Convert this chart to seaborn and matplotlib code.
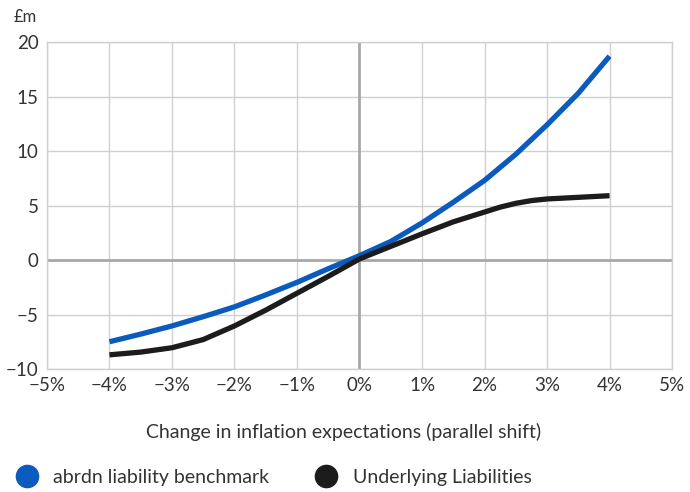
import matplotlib
matplotlib.use("Agg")
import matplotlib.pyplot as plt
from matplotlib.lines import Line2D
import pandas as pd
import seaborn as sns

# Change in inflation expectations (%) and valuation impact (£m)
bench_shift = [-4.0, -3.5, -3.0, -2.5, -2.0, -1.5, -1.0, -0.5, 0.0,
               0.5, 1.0, 1.5, 2.0, 2.5, 3.0, 3.5, 4.0]
benchmark = [-7.5, -6.8, -6.05, -5.2, -4.3, -3.2, -2.05, -0.8, 0.4,
             1.7, 3.4, 5.3, 7.3, 9.7, 12.4, 15.3, 18.7]
under_shift = [-4.0, -3.5, -3.0, -2.5, -2.0, -1.5, -1.0, -0.5, 0.0,
               0.5, 1.0, 1.5, 2.0, 2.25, 2.5, 2.75, 3.0, 3.5, 4.0]
underlying = [-8.7, -8.45, -8.05, -7.3, -6.05, -4.6, -3.05, -1.5, 0.1,
              1.25, 2.4, 3.5, 4.4, 4.85, 5.2, 5.45, 5.6, 5.75, 5.9]
series_names = ["abrdn liability benchmark", "Underlying Liabilities"]
series_colors = ["#0a5bbd", "#1c1c1c"]
x_ticks = [-5, -4, -3, -2, -1, 0, 1, 2, 3, 4, 5]
x_ticklabels = ["\u22125%", "\u22124%", "\u22123%", "\u22122%", "\u22121%", "0%",
                "1%", "2%", "3%", "4%", "5%"]
y_ticks = [-10, -5, 0, 5, 10, 15, 20]
y_ticklabels = ["\u221210", "\u22125", "0", "5", "10", "15", "20"]

df = pd.DataFrame({
    "shift": bench_shift + under_shift,
    "value": benchmark + underlying,
    "series": [series_names[0]] * len(bench_shift) + [series_names[1]] * len(under_shift),
})

sns.set_theme(style="white")
plt.rcParams["font.family"] = ["Lato", "DejaVu Sans"]
text_color = "#333333"

fig = plt.figure(figsize=(6.9, 4.92), dpi=100)
ax = fig.add_axes([0.068, 0.25, 0.906, 0.6646])

sns.lineplot(data=df, x="shift", y="value", hue="series", hue_order=series_names,
             palette=series_colors, linewidth=3.8, legend=False, ax=ax,
             solid_capstyle="butt", zorder=5)

ax.set_xlim(-5, 5)
ax.set_ylim(-10, 20)
ax.set_xticks(x_ticks)
ax.set_xticklabels(x_ticklabels)
ax.set_yticks(y_ticks)
ax.set_yticklabels(y_ticklabels)
ax.tick_params(axis="both", length=0, labelsize=13.5, labelcolor=text_color)
ax.tick_params(axis="x", pad=6)
ax.tick_params(axis="y", pad=6)

ax.grid(True, color="#d0d0d0", linewidth=1.0)
ax.axvline(0, color="#a8a8a8", linewidth=2.0, zorder=2)
ax.axhline(0, color="#a8a8a8", linewidth=2.0, zorder=2)
for side in ["left", "right", "top", "bottom"]:
    ax.spines[side].set_visible(True)
    ax.spines[side].set_color("#d0d0d0")
    ax.spines[side].set_linewidth(1.0)

ax.set_xlabel("Change in inflation expectations (parallel shift)", fontsize=14,
              color=text_color)
ax.xaxis.set_label_coords(0.475, -0.166)
ax.set_ylabel("")
fig.text(0.02, 0.965, "£m", fontsize=12, color=text_color, ha="left", va="center")

handles = [Line2D([], [], linestyle="none", marker="o", markersize=16,
                  markerfacecolor=c, markeredgecolor=c) for c in series_colors]
fig.legend(handles, series_names, loc="center left", bbox_to_anchor=(-0.008, 0.03),
           ncol=2, frameon=False, fontsize=14, labelcolor=text_color,
           handletextpad=0.6, columnspacing=2.2, handlelength=1.5)

fig.savefig("out.png", dpi=100, facecolor="white")
